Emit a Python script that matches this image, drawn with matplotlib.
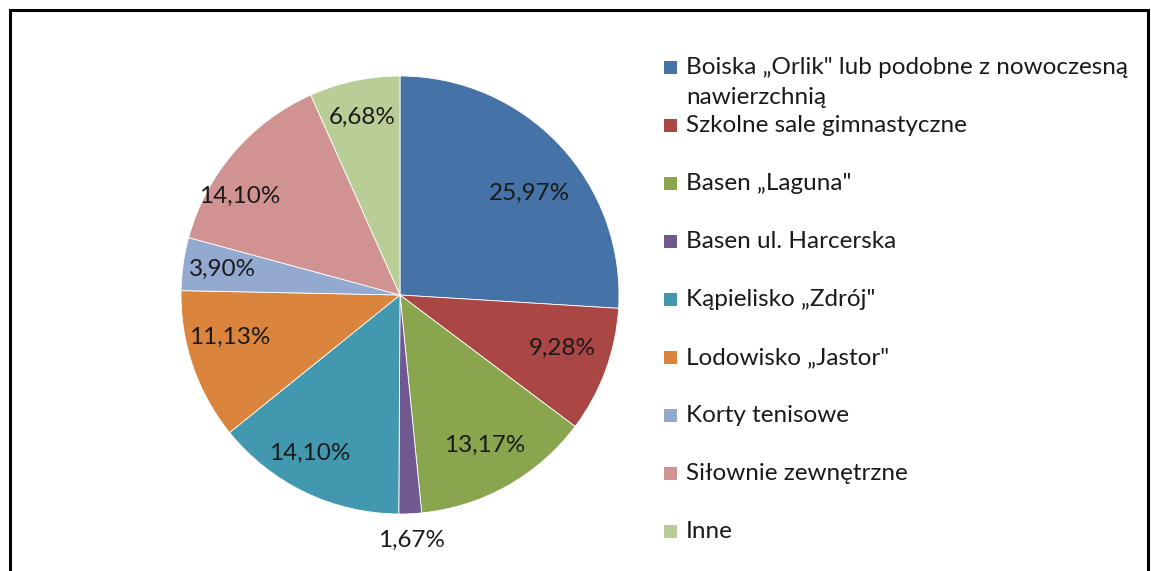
# Wykres kolowy - obiekty sportowe
import matplotlib.pyplot as plt
from matplotlib.patches import Rectangle
import numpy as np

plt.rcParams['font.family'] = ['Lato', 'DejaVu Sans']

# dane
categories = ['Boiska \u201eOrlik" lub podobne z nowoczesn\u0105\nnawierzchni\u0105',
              'Szkolne sale gimnastyczne',
              'Basen \u201eLaguna"',
              'Basen ul. Harcerska',
              'K\u0105pielisko \u201eZdr\u00f3j"',
              'Lodowisko \u201eJastor"',
              'Korty tenisowe',
              'Si\u0142ownie zewn\u0119trzne',
              'Inne']
shares = [25.97, 9.28, 13.17, 1.67, 14.10, 11.13, 3.90, 14.10, 6.68]
colors = ['#4572A7', '#AA4643', '#89A54E', '#71588F', '#4198AF',
          '#DB843D', '#93A9CF', '#D19392', '#B9CD96']

# polozenie etykiet: odleglosc (w promieniach) i przesuniecie kata (stopnie)
label_r = [0.75, 0.78, 0.79, 1.12, 0.83, 0.80, 0.82, 0.86, 0.83]
label_da = [-5, 2, 0, 0, -4, -5, 0, 9, 0]

W, H = 1151, 571
fig = plt.figure(figsize=(W / 100, H / 100), dpi=100)

# pie axes: center (400,295) px, radius 219 px
cx, cy, r = 400, 295, 219
ax = fig.add_axes([(cx - r) / W, (H - cy - r) / H, 2 * r / W, 2 * r / H])
wedges, texts = ax.pie(shares, colors=colors, startangle=90, counterclock=False,
                       labels=[('%.2f%%' % v).replace('.', ',') for v in shares],
                       labeldistance=1.0,
                       wedgeprops=dict(edgecolor='white', linewidth=0.6),
                       textprops=dict(fontsize=17.5, color='#1a1a1a'))
for t, w, d, da in zip(texts, wedges, label_r, label_da):
    ang = np.deg2rad((w.theta1 + w.theta2) / 2 + da)
    t.set_position((d * np.cos(ang), d * np.sin(ang)))
    t.set_ha('center')
    t.set_va('center')
ax.set_xlim(-1, 1)
ax.set_ylim(-1, 1)
ax.set_aspect('equal')

# legend drawn by hand (first entry wraps onto two lines)
leg_x, sq = 664, 13
leg_y0, step = 67, 58.0
for i, (lab, col) in enumerate(zip(categories, colors)):
    yc = leg_y0 + i * step
    fig.add_artist(Rectangle((leg_x / W, (H - yc - sq / 2) / H), sq / W, sq / H,
                             transform=fig.transFigure, color=col, lw=0))
    fig.text(686 / W, (H - yc + 10) / H, lab, fontsize=17.5, color='#1a1a1a',
             ha='left', va='top', linespacing=1.5)

# frame round the chart
fig.add_artist(Rectangle((9.5 / W, -0.1), (1148 - 9.5) / W, (H - 10) / H + 0.1,
                         transform=fig.transFigure, fill=False, lw=2.2,
                         edgecolor='black', clip_on=False))

fig.savefig('out.png', dpi=100)
